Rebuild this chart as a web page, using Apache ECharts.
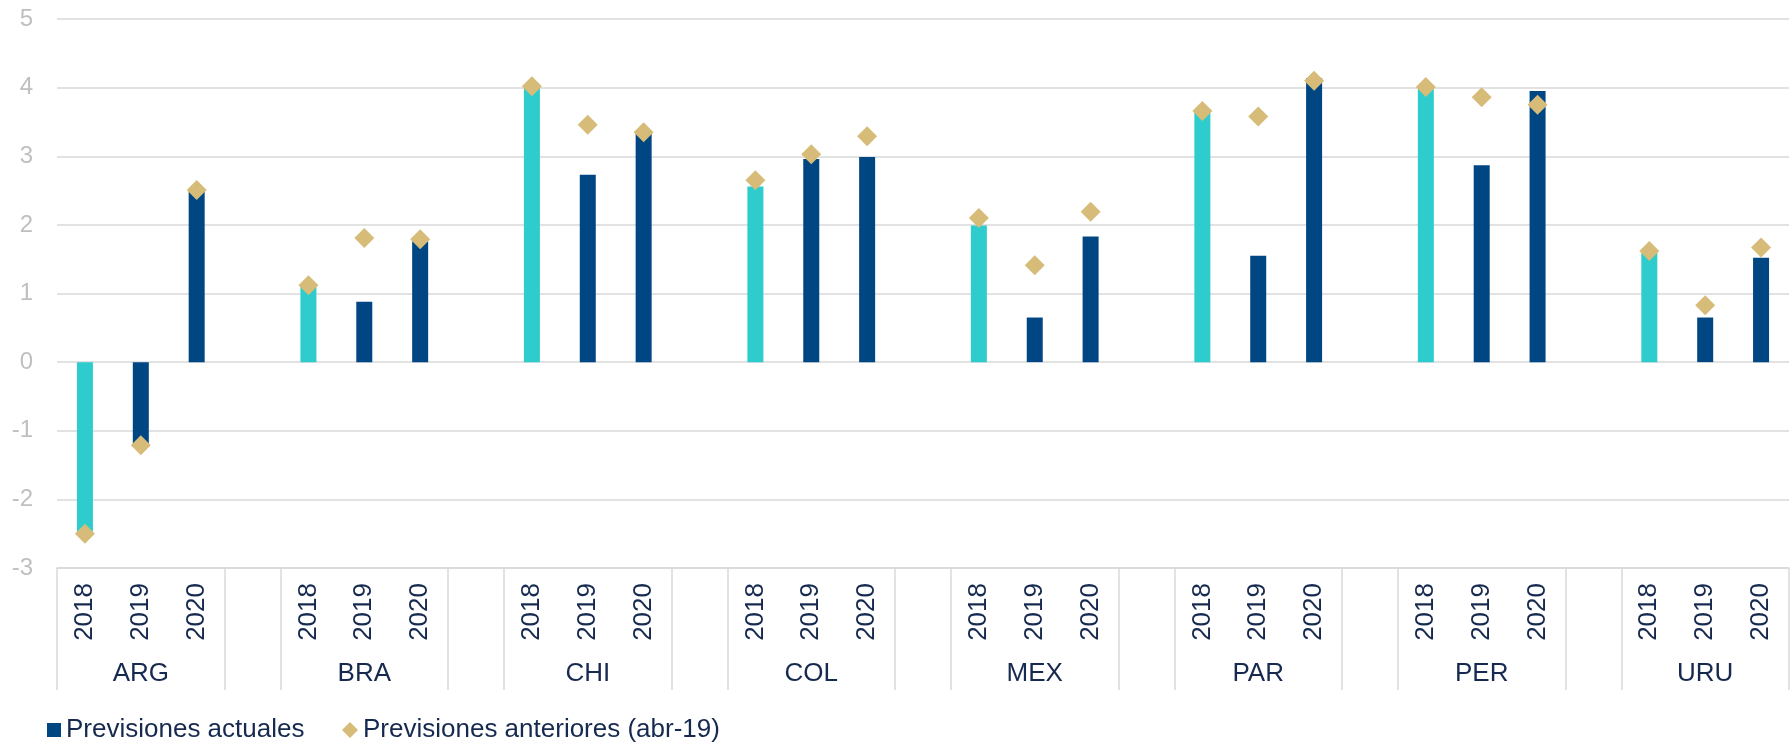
<!DOCTYPE html>
<html>
<head>
<meta charset="utf-8">
<script src="https://cdn.jsdelivr.net/npm/echarts@6/dist/echarts.min.js"></script>
<style>
  html, body { margin: 0; padding: 0; background: #fff; }
  #chart { width: 1791px; height: 744px; }
</style>
</head>
<body>
<div id="chart"></div>
<script>
// data
const countries = ['ARG', 'BRA', 'CHI', 'COL', 'MEX', 'PAR', 'PER', 'URU']
const years = ['2018', '2019', '2020']
const yTicks = [-3, -2, -1, 0, 1, 2, 3, 4, 5]

// Previsiones actuales (2018, 2019, 2020 per country)
const actuales = [
  -2.47, -1.2, 2.5,
  1.1, 0.88, 1.76,
  4.0, 2.73, 3.34,
  2.56, 2.96, 2.99,
  1.99, 0.65, 1.83,
  3.65, 1.55, 4.14,
  4.0, 2.87, 3.95,
  1.6, 0.65, 1.52,
]
// Previsiones anteriores (abr-19)
const anteriores = [
  -2.5, -1.21, 2.51,
  1.12, 1.81, 1.79,
  4.02, 3.46, 3.35,
  2.65, 3.03, 3.29,
  2.1, 1.41, 2.19,
  3.66, 3.58, 4.1,
  4.01, 3.86, 3.75,
  1.62, 0.83, 1.67,
]

const TEAL = '#2ECCCD'
const NAVY = '#004682'
const GOLD = '#D6BC78'
const TEXT = '#16294F'
const GRID = '#D9D9D9'
const FONT = "'Liberation Sans', Arial, sans-serif"

// build slots: a blank slot between country groups
const yearCats = []
const groupCats = []
const barData = []
const prevData = []
const blankIdx = []
countries.forEach((c, ci) => {
  if (ci > 0) {
    blankIdx.push(yearCats.length)
    yearCats.push('')
    groupCats.push('')
    barData.push(null)
    prevData.push(null)
  }
  years.forEach((y, yi) => {
    const k = ci * years.length + yi
    yearCats.push(y)
    groupCats.push(yi === 1 ? c : '')
    barData.push({ value: actuales[k], itemStyle: { color: yi === 0 ? TEAL : NAVY } })
    prevData.push(anteriores[k])
  })
})

const chart = echarts.init(document.getElementById('chart'))
chart.setOption({
  animation: false,
  textStyle: { fontFamily: FONT },
  grid: { left: 57, right: 2, top: 19, bottom: 176, outerBoundsMode: 'none' },
  legend: [
    {
      left: 47, top: 717, padding: 0,
      data: [{ name: 'Previsiones actuales', icon: 'rect' }],
      itemWidth: 14, itemHeight: 14,
      textStyle: { fontSize: 26, color: TEXT, fontFamily: FONT },
    },
    {
      left: 342, top: 717, padding: 0,
      data: [{ name: 'Previsiones anteriores (abr-19)', icon: 'diamond' }],
      itemWidth: 16, itemHeight: 16,
      textStyle: { fontSize: 26, color: TEXT, fontFamily: FONT },
    },
  ],
  xAxis: [
    {
      type: 'category',
      data: yearCats,
      position: 'bottom',
      axisLine: { onZero: false, lineStyle: { color: GRID, width: 1.5 } },
      axisTick: {
        show: true,
        length: 122,
        lineStyle: { color: GRID, width: 1.5 },
        // separators on both sides of the blank slot between countries
        interval: (i) => i === 0 || blankIdx.includes(i) || blankIdx.includes(i - 1),
      },
      axisLabel: {
        interval: 0, rotate: 90, margin: 15,
        fontSize: 26, color: TEXT, fontFamily: FONT,
      },
      splitLine: { show: false },
    },
    {
      type: 'category',
      data: groupCats,
      position: 'bottom',
      axisLine: { show: false, onZero: false },
      axisTick: { show: false },
      axisLabel: { interval: 0, margin: 93, fontSize: 26, color: TEXT, fontFamily: FONT },
      splitLine: { show: false },
    },
  ],
  yAxis: {
    type: 'value',
    min: yTicks[0],
    max: yTicks[yTicks.length - 1],
    interval: 1,
    axisLine: { show: false },
    axisTick: { show: false },
    axisLabel: { margin: 24, fontSize: 24, color: '#BFBFBF', fontFamily: FONT },
    splitLine: { lineStyle: { color: GRID, width: 1.5 } },
  },
  series: [
    {
      name: 'Previsiones actuales',
      type: 'bar',
      xAxisIndex: 0,
      barWidth: 16,
      itemStyle: { color: NAVY },
      data: barData,
    },
    {
      name: 'Previsiones anteriores (abr-19)',
      type: 'scatter',
      xAxisIndex: 0,
      symbol: 'diamond',
      symbolSize: 20,
      itemStyle: { color: GOLD, opacity: 1 },
      data: prevData,
    },
  ],
})
</script>
</body>
</html>
